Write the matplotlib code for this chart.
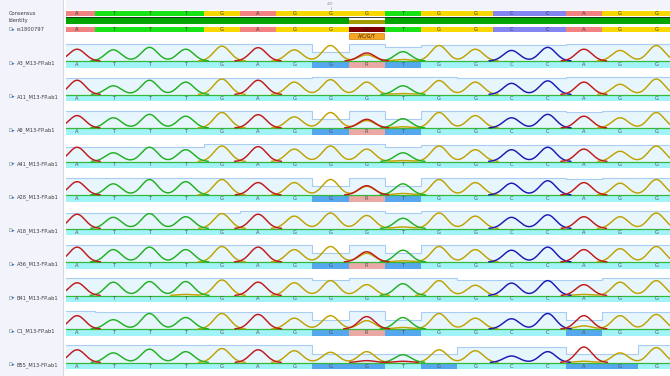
import numpy as np
import matplotlib.pyplot as plt
from matplotlib.patches import Rectangle

plt.rcParams['font.family'] = ['DejaVu Sans']

# ---------------- data ----------------
consensus = list("ATTTGAGGGTGGCCAGG")
rs_name = "rs1800797"
rs_seq = list("ATTTGAGGNTGGCCAGG")
identity = [1, 1, 1, 1, 1, 1, 1, 1, 0.62, 1, 1, 1, 1, 1, 1, 1, 1]
ambiguity_col = 8
ambiguity_text = "A/C/G/T"
ruler_pos = 7.5
ruler_label = "400"

names = ["A3_M13-FP.ab1", "A11_M13-FP.ab1", "A8_M13-FP.ab1", "A41_M13-FP.ab1",
         "A28_M13-FP.ab1", "A18_M13-FP.ab1", "A36_M13-FP.ab1", "B41_M13-FP.ab1",
         "C1_M13-FP.ab1", "B55_M13-FP.ab1"]

calls = ["ATTTGAGGRTGGCCAGG", "ATTTGAGGGTGGCCAGG", "ATTTGAGGRTGGCCAGG",
         "ATTTGAGGGTGGCCAGG", "ATTTGAGGRTGGCCAGG", "ATTTGAGGGTGGCCAGG",
         "ATTTGAGGRTGGCCAGG", "ATTTGAGGGTGGCCAGG", "ATTTGAGGRTGGCCAGG",
         "ATTTGAGGGTGGCCAGG"]

# base-call flags: '-' normal, 'b' low quality, 'p' ambiguous
flags = ["-------bpb-------", "-----------------", "-------bpb-------",
         "-----------------", "-------bpb-------", "-----------------",
         "-------bpb-------", "-----------------", "-------bpb----b--",
         "-------bb-b---bb-"]

# primary peak heights (channel = consensus base of each column)
primary = [
    [.76, .72, .88, .76, .96, .86, .72, 1.0, .40, .60, 1.0, .76, .68, .88, .76, .68, 1.0],
    [.92, .56, .92, .80, 1.0, .92, .80, .96, .80, .56, .90, .80, .72, .88, .80, .66, 1.0],
    [.80, .66, .88, .76, 1.0, .86, .72, 1.0, .48, .60, 1.0, .80, .66, .88, .76, .66, 1.0],
    [.92, .56, .92, .76, 1.0, .96, .80, 1.0, .80, .56, 1.0, .76, .76, .92, .80, .66, 1.0],
    [.86, .72, 1.0, .86, 1.0, .80, .80, 1.0, .56, .72, 1.0, .80, .76, .92, .80, .76, 1.0],
    [.92, .72, .96, .76, .96, .92, .80, 1.0, .84, .66, 1.0, .80, .72, .88, .76, .76, 1.0],
    [.96, .80, .96, .80, 1.0, .96, .80, 1.0, .56, .76, 1.0, .80, .76, .96, .80, .86, 1.0],
    [.82, .86, .90, .90, 1.0, .86, .82, .96, .70, .76, .96, .66, .80, .96, .70, .86, .96],
    [.86, .60, 1.0, .74, 1.0, .94, .70, .86, .54, .74, 1.0, .70, .66, 1.0, .86, .86, .94],
    [.82, .62, .86, .70, .90, .82, .76, .66, .70, .50, .82, .76, .42, .70, 1.0, .62, .96],
]

# secondary peaks: (column, base, height)
secondary = [
    [(8, 'A', .52), (9, 'G', .10)],
    [(9, 'G', .06)],
    [(8, 'A', .56), (9, 'G', .08)],
    [(9, 'G', .06)],
    [(8, 'A', .60), (9, 'G', .10)],
    [(9, 'G', .10)],
    [(8, 'A', .66), (9, 'G', .08)],
    [(3, 'G', .07), (14, 'G', .07)],
    [(8, 'A', .80), (9, 'G', .10), (14, 'G', .20)],
    [(8, 'A', .12), (9, 'A', .08), (14, 'G', .08)],
]

# per-column quality (1 = full box height)
quality = [
    [1, 1, 1, 1, 1, 1, 1, .5, 1, .8, .9, .9, .9, .9, 1, 1, 1],
    [.92, .92, .92, .92, .92, .92, .92, 1, 1, 1, 1, .92, .92, .92, 1, 1, 1],
    [.95, .95, .95, .95, .95, .95, 1, .5, 1, .5, .95, 1, 1, 1, .9, .95, .95],
    [.85, .85, .85, .85, 1, 1, 1, 1, 1, .85, .95, .95, .95, .95, .95, .95, .95],
    [.95, .95, .95, .95, .95, 1, 1, .5, 1, .5, .95, 1, .95, .95, .9, .98, .98],
    [.88, .88, .88, .88, .88, 1, 1, 1, 1, .9, 1, 1, 1, 1, 1, 1, 1],
    [1, .95, .95, .95, .95, 1, 1, .5, 1, .5, 1, 1, 1, 1, 1, 1, 1],
    [1, 1, 1, 1, 1, 1, 1, .9, 1, 1, 1, .9, .9, .9, .9, 1, 1],
    [1.05, 1, 1, 1, 1, 1, 1, .5, 1.05, .5, .95, 1, 1, 1, .5, .95, .95],
    [1, 1, 1, 1, 1, 1, 1, .5, .5, .5, .5, .9, .9, .9, .5, .5, 1],
]

# ---------------- styles ----------------
cons_col = {'A': '#f38383', 'T': '#17e317', 'G': '#f8d800', 'C': '#8484f2', 'N': '#800000'}
trace_col = {'A': '#c01a1a', 'T': '#22b022', 'G': '#c0a200', 'C': '#1a1ab4'}
flag_col = {'-': '#a2f3f8', 'b': '#55a7ee', 'p': '#eaa9a4'}
panel_bg = '#f3f3fb'
txt_col = '#3c3c3c'

W, H = 670, 376
fig = plt.figure(figsize=(W / 100, H / 100), dpi=100)
fig.patch.set_facecolor('white')

# left label panel
axl = fig.add_axes([0, 0, 63 / W, 1])
axl.set_xlim(0, 63)
axl.set_ylim(H, 0)
axl.set_facecolor(panel_bg)
axl.set_xticks([])
axl.set_yticks([])
for s in ['top', 'left', 'bottom']:
    axl.spines[s].set_visible(False)
axl.spines['right'].set_color('#d6d6e6')
axl.spines['right'].set_linewidth(0.8)

# main alignment area, x in base columns
colw = 36.2
xmin, xmax = 7 / colw, 611 / colw
ax = fig.add_axes([66 / W, 0, 604 / W, 1])
ax.set_xlim(xmin, xmax)
ax.set_ylim(H, 0)
ax.axis('off')

n = len(consensus)
cx = np.arange(n) + 0.5
fs_lab = 3.7
fs_base = 3.7

# ruler band
ax.axhspan(0, 9.5, color=panel_bg, lw=0)
ax.text(ruler_pos, 4.2, ruler_label, fontsize=2.4, color='#8a8a9a', ha='center', va='center')
ax.plot([ruler_pos, ruler_pos], [6.5, 9.0], color='#9a9aaa', lw=0.4)

# consensus row
ax.bar(cx, 5.2, bottom=11.0, width=1.0, color=[cons_col[b] for b in consensus], lw=0)
for x, b in zip(cx, consensus):
    ax.text(x, 13.7, b, fontsize=fs_base, color=txt_col, ha='center', va='center')
ax.plot([xmin, xmax], [16.6, 16.6], color='#202020', lw=0.6)

# identity row
ident_colors = ['#00a500' if v >= 1 else '#a19a00' for v in identity]
ax.bar(cx, [-7.0 * v for v in identity], bottom=24.3, width=1.0, color=ident_colors, lw=0)

# rs row
ax.bar(cx, 5.5, bottom=26.5, width=1.0, color=[cons_col[b] for b in rs_seq], lw=0)
for x, b in zip(cx, rs_seq):
    ax.text(x, 29.3, b, fontsize=fs_base, color='#1a1a1a' if b == 'N' else txt_col,
            ha='center', va='center')
ax.add_patch(Rectangle((ambiguity_col + 0.02, 33.0), 0.96, 5.6, facecolor='#f5a623',
                       edgecolor='#c8830a', lw=0.5))
ax.text(ambiguity_col + 0.5, 35.9, ambiguity_text, fontsize=3.4, color='#3a2000',
        ha='center', va='center')

# left panel labels
axl.text(8.3, 13.6, "Consensus", fontsize=fs_lab, color=txt_col, va='center')
axl.text(8.3, 20.6, "Identity", fontsize=fs_lab, color=txt_col, va='center')


def icon(y):
    axl.text(8.6, y, "D", fontsize=3.4, color='#7a7a86', va='center')
    axl.text(12.0, y, "\u25b8", fontsize=3.8, color='#2a6fd0', va='center')


icon(29.4)
axl.text(16.7, 29.4, rs_name, fontsize=fs_lab, color=txt_col, va='center')

# chromatogram tracks
xs = np.linspace(xmin, xmax, 1800)
sig = 0.22
peak_px = 15.5
box_px = 17.5
edges = np.arange(n + 1)
order = ['G', 'C', 'T', 'A']

for k, name in enumerate(names):
    L = 63.5 + 33.5 * k
    yb = L - 2.5
    q = np.array(quality[k] + [quality[k][-1]], dtype=float)
    top = yb - box_px * q
    ax.fill_between(edges, top, yb, step='post', color='#e6f6fc', lw=0)
    ax.step(edges, top, where='post', color='#a9cdf2', lw=0.8)

    ax.bar(cx, 6.5, bottom=yb, width=1.0, color=[flag_col[f] for f in flags[k]], lw=0)
    for x, b in zip(cx, calls[k]):
        ax.text(x, yb + 3.5, b, fontsize=fs_base, color='#505050', ha='center', va='center')

    ax.plot([xmin, xmax], [yb, yb], color='#38b838', lw=0.9)

    chans = {c: np.zeros_like(xs) for c in 'ACGT'}
    for i, h in enumerate(primary[k]):
        chans[consensus[i]] += h * np.exp(-0.5 * ((xs - cx[i]) / sig) ** 2)
    for (i, b, h) in secondary[k]:
        chans[b] += h * np.exp(-0.5 * ((xs - cx[i]) / sig) ** 2)
    for c in order:
        s = chans[c]
        y = yb - peak_px * s
        y = np.where(s < 0.012, np.nan, y)
        ax.plot(xs, y, color=trace_col[c], lw=1.05, solid_capstyle='round')

    icon(L)
    axl.text(16.7, L, name, fontsize=fs_lab, color=txt_col, va='center')

fig.savefig("out.png", dpi=100, facecolor='white')
